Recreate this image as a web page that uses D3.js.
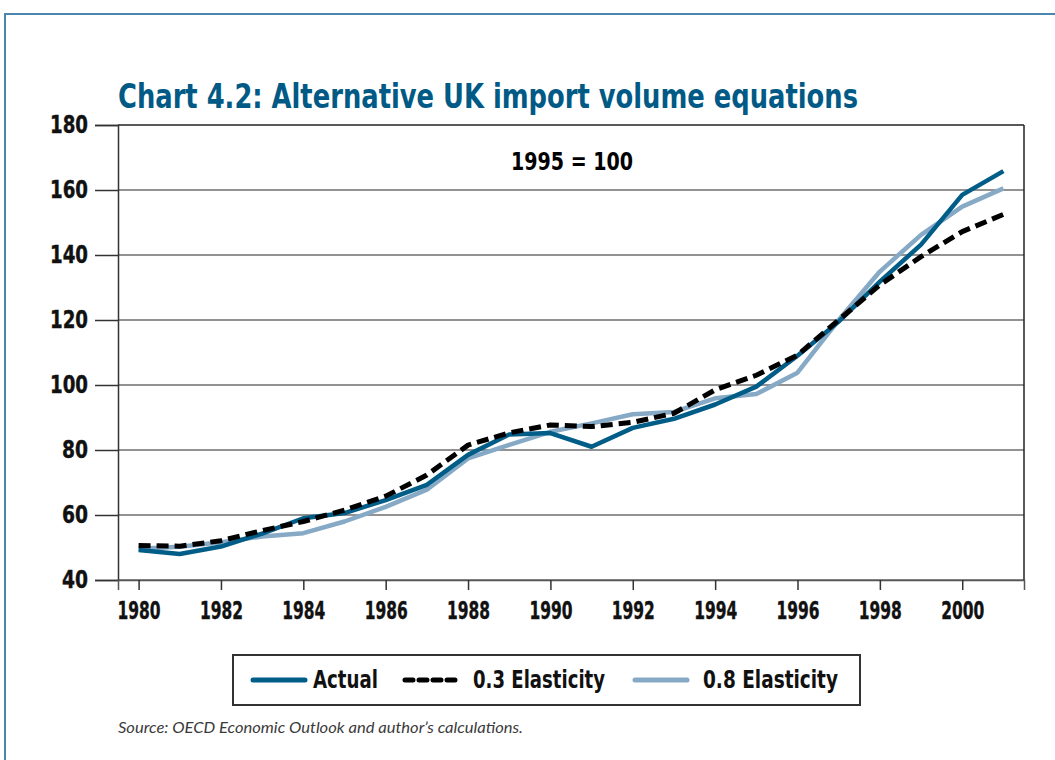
<!DOCTYPE html>
<html>
<head>
<meta charset="utf-8">
<script src="https://cdn.jsdelivr.net/npm/d3@7"></script>
<style>
  body { margin: 0; background: #fff; }
  svg text { font-family: "Liberation Sans Narrow", "DejaVu Sans Condensed", sans-serif; }
</style>
</head>
<body>
<svg id="chart" width="1055" height="760"></svg>
<script>
// data (1995 = 100)
const years = d3.range(1980, 2002);
const actual = [49.2, 48.0, 50.3, 54.3, 59.0, 60.6, 64.6, 69.3, 78.5, 84.8, 85.2, 81.0,
  86.8, 89.6, 94.0, 99.5, 109.0, 119.5, 131.8, 143.2, 158.5, 165.8];
const elast03 = [50.6, 50.4, 52.1, 55.2, 58.0, 61.5, 65.8, 72.3, 81.5, 85.3, 87.7, 87.2,
  88.5, 91.3, 98.5, 103.0, 109.2, 120.0, 130.8, 139.5, 147.2, 152.5];
const elast08 = [49.6, 50.2, 51.6, 53.4, 54.4, 58.0, 62.5, 67.8, 77.4, 81.6, 85.6, 88.2,
  91.0, 91.7, 95.9, 97.2, 103.8, 120.0, 134.9, 146.2, 154.9, 160.5];
const yTicks = [40, 60, 80, 100, 120, 140, 160, 180];
const xTicks = d3.range(1980, 2002, 2);

const series = [
  { name: "0.8 Elasticity", values: elast08, color: "#86a9c6", width: 4.5, dash: null },
  { name: "Actual", values: actual, color: "#005d87", width: 4.5, dash: null },
  { name: "0.3 Elasticity", values: elast03, color: "#000", width: 5, dash: "12,6" }
];

const svg = d3.select("#chart");
const plotL = 118, plotR = 1024, plotT = 125, plotB = 580;

// page frame
svg.append("path")
  .attr("d", "M5,760 V14 H1055")
  .attr("fill", "none")
  .attr("stroke", "#4a86ae")
  .attr("stroke-width", 2);

svg.append("text")
  .attr("x", plotL).attr("y", 108)
  .attr("font-size", 34).attr("font-weight", "bold")
  .attr("fill", "#005a85")
  .attr("textLength", 740).attr("lengthAdjust", "spacingAndGlyphs")
  .text("Chart 4.2: Alternative UK import volume equations");

const x = d3.scaleLinear().domain([1979.5, 2001.5]).range([plotL, plotR]);
const y = d3.scaleLinear().domain([40, 180]).range([plotB, plotT]);

// gridlines
svg.append("g")
  .selectAll("line")
  .data(yTicks)
  .join("line")
  .attr("x1", plotL).attr("x2", plotR)
  .attr("y1", d => y(d)).attr("y2", d => y(d))
  .attr("stroke", d => d == 180 ? "#222" : "#6e6e6e")
  .attr("stroke-width", 1.5);

svg.append("line")
  .attr("x1", plotR).attr("x2", plotR)
  .attr("y1", plotT).attr("y2", plotB)
  .attr("stroke", "#222").attr("stroke-width", 1.5);

const yAxis = svg.append("g")
  .attr("transform", `translate(${plotL},0)`)
  .call(d3.axisLeft(y).tickValues(yTicks).tickSize(23).tickPadding(7));
const xAxis = svg.append("g")
  .attr("transform", `translate(0,${plotB})`)
  .call(d3.axisBottom(x).tickValues(xTicks).tickFormat(d3.format("d")).tickSize(10).tickPadding(12));

const labelWidth = { 2: 26, 3: 38, 4: 43 };
[yAxis, xAxis].forEach(g => {
  g.select(".domain").attr("stroke", "#333").attr("stroke-width", 1.5);
  g.selectAll(".tick line").attr("stroke", "#333").attr("stroke-width", 1.5);
  g.selectAll(".tick text")
    .attr("fill", "#111")
    .attr("font-size", 24)
    .attr("font-weight", "bold")
    .attr("stroke", "#111").attr("stroke-width", 0.4)
    .attr("textLength", d => labelWidth[String(d).length])
    .attr("lengthAdjust", "spacingAndGlyphs")
    .style("font-family", "'Liberation Sans Narrow', 'DejaVu Sans Condensed', sans-serif");
});
xAxis.select(".domain").attr("stroke", "#555");

svg.append("text")
  .attr("x", 572).attr("y", 170)
  .attr("text-anchor", "middle")
  .attr("font-size", 24).attr("font-weight", "bold")
  .attr("textLength", 122).attr("lengthAdjust", "spacingAndGlyphs")
  .text("1995 = 100");

const line = d3.line()
  .x((d, i) => x(years[i]))
  .y(d => y(d));

svg.append("g")
  .selectAll("path")
  .data(series)
  .join("path")
  .attr("d", d => line(d.values))
  .attr("fill", "none")
  .attr("stroke", d => d.color)
  .attr("stroke-width", d => d.width)
  .attr("stroke-dasharray", d => d.dash)
  .attr("stroke-linejoin", "round");

// legend
const legend = svg.append("g");
legend.append("rect")
  .attr("x", 233).attr("y", 655)
  .attr("width", 627).attr("height", 50)
  .attr("fill", "#fff")
  .attr("stroke", "#333")
  .attr("stroke-width", 2);

const legendItems = [
  { s: series[1], x0: 253, tx: 313, tw: 65 },
  { s: series[2], x0: 405, tx: 473, tw: 132 },
  { s: series[0], x0: 635, tx: 703, tw: 135 }
];
legendItems.forEach(d => {
  legend.append("line")
    .attr("x1", d.x0).attr("x2", d.x0 + 52)
    .attr("y1", 680).attr("y2", 680)
    .attr("stroke", d.s.color)
    .attr("stroke-width", 5)
    .attr("stroke-linecap", "round")
    .attr("stroke-dasharray", d.s.dash ? "8,6" : null);
  legend.append("text")
    .attr("x", d.tx).attr("y", 688)
    .attr("font-size", 24).attr("font-weight", "bold")
    .attr("fill", "#111")
    .attr("textLength", d.tw).attr("lengthAdjust", "spacingAndGlyphs")
    .text(d.s.name);
});

svg.append("text")
  .attr("x", plotL).attr("y", 733)
  .attr("font-size", 16)
  .attr("font-style", "italic")
  .attr("fill", "#3a3a3a")
  .attr("textLength", 405).attr("lengthAdjust", "spacingAndGlyphs")
  .style("font-family", "Lato, 'Open Sans', sans-serif")
  .style("font-weight", 400)
  .text("Source: OECD Economic Outlook and author’s calculations.");
</script>
</body>
</html>
